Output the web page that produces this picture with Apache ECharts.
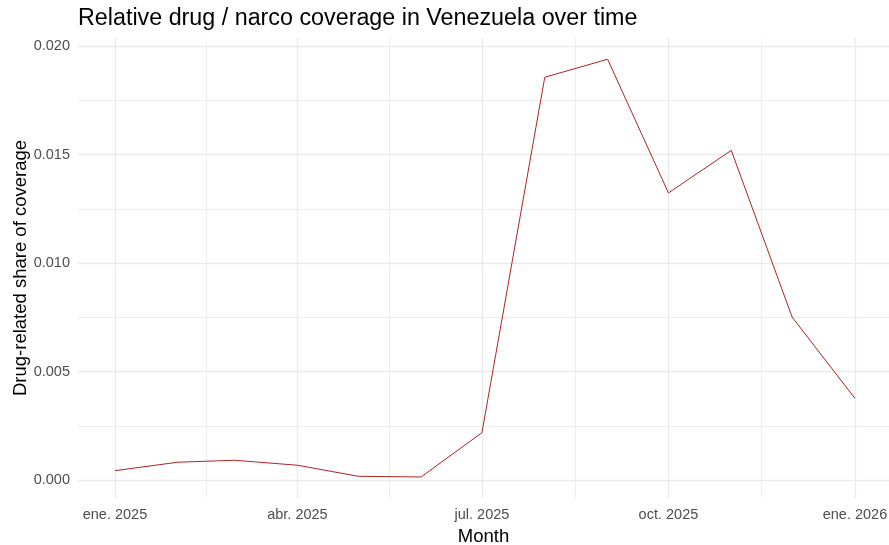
<!DOCTYPE html>
<html><head><meta charset="utf-8">
<script src="https://cdn.jsdelivr.net/npm/echarts@6/dist/echarts.min.js"></script>
<style>html,body{margin:0;padding:0;background:#fff}#c{width:889px;height:545px}</style>
</head><body><div id="c"></div>
<script>
// ---- data ----
const months = ['2025-01-01','2025-02-01','2025-03-01','2025-04-01','2025-05-01','2025-06-01','2025-07-01','2025-08-01','2025-09-01','2025-10-01','2025-11-01','2025-12-01','2026-01-01'];
const shares = [0.00043,0.00082,0.00091,0.00068,0.00017,0.00014,0.00218,0.01856,0.01939,0.01323,0.01519,0.00751,0.00376];
const majorTicks = ['2025-01-01','2025-04-01','2025-07-01','2025-10-01','2026-01-01'];
const majorLabels = ['ene. 2025','abr. 2025','jul. 2025','oct. 2025','ene. 2026'];
const minorTicks = ['2025-02-15','2025-05-16T12','2025-08-16','2025-11-16'];
const yTicks = [0,0.005,0.010,0.015,0.020];

// days since 2025-01-01
function t(s){
  const [d,h] = s.split('T');
  const [y,m,dd] = d.split('-').map(Number);
  return (Date.UTC(y,m-1,dd,h?Number(h):0) - Date.UTC(2025,0,1)) / 864e5;
}
const xMin = t('2025-01-01') - 18.25;
const xMax = t('2026-01-01') + 16.8;
const majorT = majorTicks.map(t);
const minorT = minorTicks.map(t);
const FONT = 'Liberation Sans, Arial, sans-serif';
const GRID_C = '#EBEBEB';

const chart = echarts.init(document.getElementById('c'), null, {renderer:'canvas'});
chart.setOption({
  animation:false,
  backgroundColor:'#fff',
  textStyle:{fontFamily:FONT},
  title:{text:'Relative drug / narco coverage in Venezuela over time', left:78, top:7, padding:0,
    textStyle:{fontSize:23.3, fontWeight:'normal', color:'#000', fontFamily:FONT}},
  grid:[
    {left:78,right:0,top:38,bottom:47, outerBoundsMode:'none', containLabel:false},
    {left:78,right:0,top:46,bottom:65, outerBoundsMode:'none', containLabel:false},
    {left:78,right:0,top:38,bottom:47, outerBoundsMode:'none', containLabel:false}
  ],
  xAxis:[
    {type:'value', gridIndex:0, min:xMin, max:xMax,
     axisLine:{show:false}, axisTick:{show:false, customValues:majorT},
     axisLabel:{customValues:majorT, margin:9, color:'#4D4D4D', fontSize:14.5, fontFamily:FONT,
       formatter:(v)=>{const i=majorT.indexOf(v); return i>=0?majorLabels[i]:'';}},
     splitLine:{show:true, lineStyle:{color:GRID_C, width:1.4}},
     name:'Month', nameLocation:'middle', nameGap:29,
     nameTextStyle:{fontSize:18.5, color:'#000', fontFamily:FONT}},
    {type:'value', gridIndex:1, min:xMin, max:xMax, show:false},
    {type:'value', gridIndex:2, min:xMin, max:xMax,
     axisLine:{show:false}, axisTick:{show:false, customValues:minorT},
     axisLabel:{show:false},
     splitLine:{show:true, lineStyle:{color:GRID_C, width:0.9}}}
  ],
  yAxis:[
    {type:'value', gridIndex:0, min:0, max:1,
     axisLine:{show:false}, axisTick:{show:false}, axisLabel:{show:false}, splitLine:{show:false},
     name:'Drug-related share of coverage', nameLocation:'middle', nameGap:48, nameRotate:90,
     nameTextStyle:{fontSize:18.5, color:'#000', fontFamily:FONT}},
    {type:'value', gridIndex:1, min:yTicks[0], max:yTicks[yTicks.length-1], interval:0.005,
     axisLine:{show:false}, axisTick:{show:false},
     axisLabel:{margin:8, color:'#4D4D4D', fontSize:14.5, fontFamily:FONT, formatter:(v)=>v.toFixed(3)},
     splitLine:{show:true, lineStyle:{color:GRID_C, width:1.4}},
     minorTick:{show:false, splitNumber:2},
     minorSplitLine:{show:true, lineStyle:{color:GRID_C, width:0.9}}},
    {type:'value', gridIndex:2, min:0, max:1, show:false}
  ],
  series:[
    {type:'line', xAxisIndex:1, yAxisIndex:1, z:10,
     data:months.map((m,i)=>[t(m), shares[i]]),
     showSymbol:false, symbol:'none',
     lineStyle:{color:'#B22222', width:1}}
  ]
});
</script></body></html>
